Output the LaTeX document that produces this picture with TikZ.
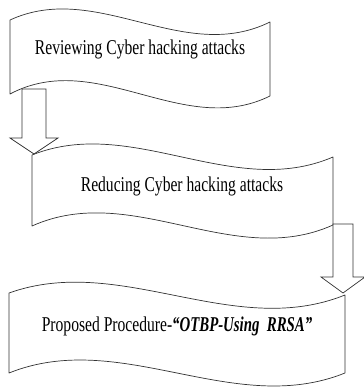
\documentclass[tikz,border=0pt]{standalone}
\usepackage{fontspec}
\setmainfont{Liberation Serif}
\begin{document}
\begin{tikzpicture}[x=1pt,y=-1pt,
  banner/.style={draw=black!80,line width=0.7pt,fill=white,line join=round},
  blockarrow/.style={draw=black!80,line width=0.7pt,fill=white,line join=miter},
  label/.style={anchor=base,inner sep=0pt,font=\fontsize{15.6}{18}\selectfont}]
\useasboundingbox (0,0) rectangle (363,387);
% banner 1
\draw[banner] (10,20) .. controls (97,-20) and (183,65) .. (270,22)
  -- (270,96) .. controls (183,139) and (97,48) .. (10,94) -- cycle;
% banner 2
\draw[banner] (32,155) .. controls (132,115) and (233,200) .. (333,157)
  -- (333,225) .. controls (233,270) and (132,181) .. (32,226) -- cycle;
% banner 3
\draw[banner] (9,293) .. controls (121,253) and (233,340) .. (345,295)
  -- (345,373) .. controls (233,418) and (121,328) .. (9,373) -- cycle;
% arrow 1
\draw[blockarrow] (22,89) -- (46,89) -- (46,138) -- (58,138) -- (34,154)
  -- (10,138) -- (22,138) -- cycle;
% arrow 2
\draw[blockarrow] (333,224) -- (353,224) -- (353,277) -- (365,277) -- (343,293)
  -- (321,277) -- (333,277) -- cycle;
% texts
\node[label] (t1) at (140,55) {\scalebox{1}[1.35]{Reviewing Cyber hacking attacks}};
\node[label] (t2) at (182,191) {\scalebox{1}[1.35]{Reducing Cyber hacking attacks}};
\node[label] (t3) at (177,331) {\scalebox{1}[1.35]{Proposed Procedure-\scalebox{0.95}[1]{\textbf{\textit{“OTBP-Using\ \ RRSA”}}}}};
\end{tikzpicture}
\end{document}
